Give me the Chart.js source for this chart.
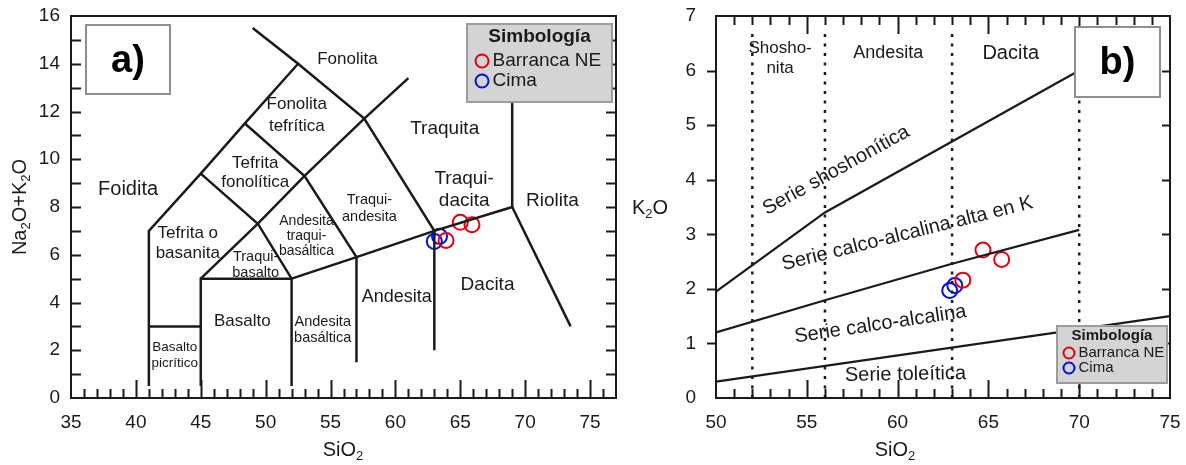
<!DOCTYPE html>
<html>
<head>
<meta charset="utf-8">
<title>Diagramas TAS y K2O vs SiO2</title>
<script src="https://cdn.jsdelivr.net/npm/chart.js@4.4.1/dist/chart.umd.min.js"></script>
<style>
  body { margin: 0; background: #fff; }
  canvas { position: absolute; top: 0; }
  #tas { left: 0; }
  #k2o { left: 620px; }
</style>
</head>
<body>
<canvas id="tas" width="640" height="465"></canvas>
<canvas id="k2o" width="566" height="465"></canvas>
<script>
const FONT = '"Liberation Sans", Arial, Helvetica, sans-serif';
const INK = '#1a1a1a';
const RED = '#e3000f';
const BLUE = '#0010d8';

// ---- a) diagrama TAS ----
const xTicksA = [35, 40, 45, 50, 55, 60, 65, 70, 75];
const yTicksA = [0, 2, 4, 6, 8, 10, 12, 14, 16];
// limites de campos (SiO2, Na2O+K2O)
const tasFoidita = [[41, 0.5], [41, 7], [45, 9.4], [48.4, 11.5], [52.5, 14], [49, 15.5]];
const tasPicro = [[41, 3], [45, 3]];
const tasBasalto = [[45, 0.5], [45, 5], [52, 5], [52, 0.5]];
const tasTefrita = [[45, 5], [49.4, 7.3], [53, 9.3], [57.6, 11.7], [61, 13.4]];
const tasTefFon = [[45, 9.4], [49.4, 7.3], [52, 5]];
const tasFonTef = [[48.4, 11.5], [53, 9.3], [57, 5.9], [57, 1.5]];
const tasFonolita = [[52.5, 14], [57.6, 11.7], [63, 7], [63, 2]];
const tasSubalc = [[52, 5], [57, 5.9], [63, 7], [69, 8], [69, 12.4]];
const tasRiolita = [[69, 8], [73.5, 3]];

const siA_barranca = [65.0, 65.9, 63.9];
const alkA_barranca = [7.36, 7.26, 6.6];
const siA_cima = [63.0, 63.4];
const alkA_cima = [6.56, 6.77];

// nombres de campos: texto, SiO2, Na2O+K2O, tamaño, ángulo, interlineado
const rocasA = [
  ['Fonolita', 56.3, 14.2, 17],
  ['Fonolita\ntefrítica', 52.4, 11.83, 17, 0, 1.3],
  ['Traquita', 63.8, 11.28, 19],
  ['Traqui-\ndacita', 65.3, 8.73, 19],
  ['Riolita', 72.1, 8.26, 19],
  ['Traqui-\nandesita', 58.0, 7.93, 14.5],
  ['Tefrita\nfonolítica', 49.2, 9.43, 17],
  ['Foidita', 39.4, 8.73, 20],
  ['Tefrita o\nbasanita', 44.0, 6.49, 17],
  ['Andesita\ntraqui-\nbasáltica', 53.15, 6.77, 14, 0, 1.07],
  ['Traqui-\nbasalto', 49.23, 5.57, 14.5],
  ['Basalto', 48.2, 3.21, 17],
  ['Basalto\npicrítico', 43.0, 1.79, 13.5],
  ['Andesita\nbasáltica', 54.4, 2.85, 14.5],
  ['Andesita', 60.1, 4.21, 18],
  ['Dacita', 67.1, 4.76, 19]
];

// ---- b) K2O vs SiO2 ----
const xTicksB = [50, 55, 60, 65, 70, 75];
const yTicksB = [0, 1, 2, 3, 4, 5, 6, 7];
const divB = [52, 56, 63, 70];
const serieShosh = [[50, 1.95], [56, 3.4], [70, 6.0]];
const serieAltaK = [[50, 1.2], [56, 1.79], [63, 2.46], [70, 3.08]];
const serieToleit = [[50, 0.3], [75, 1.5]];

const siB_barranca = [64.7, 65.73, 63.59];
const kB_barranca = [2.71, 2.54, 2.16];
const siB_cima = [62.87, 63.15];
const kB_cima = [1.97, 2.06];

const rocasB = [
  ['Shosho-\nnita', 53.53, 6.22, 17],
  ['Andesita', 59.49, 6.32, 18],
  ['Dacita', 66.23, 6.32, 20],
  ['Serie shoshonítica', 56.62, 4.17, 20, -29],
  ['Serie calco-alcalina alta en K', 60.54, 3.01, 20, -14],
  ['Serie calco-alcalina', 59.05, 1.35, 20, -8.5],
  ['Serie toleítica', 60.43, 0.43, 20, -1]
];

const seg = arr => arr.map(([x, y]) => ({ x, y }));
const pts = (xs, ys) => xs.map((x, i) => ({ x, y: ys[i] }));

function boundary(arr, w, dash) {
  return {
    data: seg(arr), showLine: true, borderColor: INK, borderWidth: w,
    borderDash: dash || [], borderCapStyle: 'butt', borderJoinStyle: 'miter',
    pointRadius: 0, fill: false, tension: 0
  };
}

function sample(label, xs, ys, color, r) {
  return {
    label, data: pts(xs, ys), showLine: false, isSample: true,
    pointStyle: 'circle', pointRadius: r, pointHoverRadius: r, pointBorderWidth: 2,
    borderColor: color, pointBorderColor: color, backgroundColor: 'rgba(0,0,0,0)'
  };
}

// fija el tamaño del eje y anula el relleno extra que Chart.js añade por las etiquetas
function fixed(prop, size) {
  return s => {
    s[prop] = size;
    s.paddingTop = s.paddingBottom = s.paddingLeft = s.paddingRight = 0;
  };
}

function axis(min, max, ticks, pad, fit) {
  return {
    type: 'linear', min, max,
    afterBuildTicks: s => { s.ticks = ticks.map(v => ({ value: v })); },
    afterFit: fit,
    grid: { display: false, drawTicks: false },
    border: { display: false },
    ticks: { font: { family: FONT, size: 19 }, color: INK, padding: pad, autoSkip: false, maxRotation: 0 }
  };
}

// texto con subíndices: '_' marca el siguiente carácter
function drawSub(ctx, text, cx, cy, size) {
  const segs = [];
  for (let i = 0; i < text.length; i++) {
    if (text[i] === '_') segs.push([text[++i], true]);
    else segs.push([text[i], false]);
  }
  const fontOf = sub => (sub ? size * 0.65 : size) + 'px ' + FONT;
  let w = 0;
  segs.forEach(([c, sub]) => { ctx.font = fontOf(sub); w += ctx.measureText(c).width; });
  let x = cx - w / 2;
  ctx.textAlign = 'left';
  ctx.textBaseline = 'middle';
  segs.forEach(([c, sub]) => {
    ctx.font = fontOf(sub);
    ctx.fillText(c, x, sub ? cy + size * 0.3 : cy);
    x += ctx.measureText(c).width;
  });
}

const panels = {
  tas: {
    rocas: rocasA,
    tickTop: false, leftOut: false, leftLen: 10, rightLen: 10,
    xTitle: ['SiO_2', 343, 450], yTitle: ['Na_2O+K_2O', 20, 207, true],
    tag: { text: 'a)', x: 86, y: 25, w: 84, h: 69 },
    legend: { x: 467, y: 24, w: 145, h: 78, size: 19, title: 13, row0: 37, step: 20, mx: 482, r: 6.5 }
  },
  k2o: {
    rocas: rocasB,
    tickTop: true, leftOut: true, leftLen: 9, rightLen: 8,
    xTitle: ['SiO_2', 275, 450], yTitle: ['K_2O', 30, 208, false],
    tag: { text: 'b)', x: 455, y: 27, w: 85, h: 70 },
    legend: { x: 437, y: 326, w: 110, h: 57, size: 15, title: 9.5, row0: 27, step: 15, mx: 449, r: 5.5 }
  }
};

const deco = {
  id: 'deco',
  afterDraw(chart) {
    const p = panels[chart.canvas.id];
    const ctx = chart.ctx;
    const { left, right, top, bottom } = chart.chartArea;
    const xs = chart.scales.x, ys = chart.scales.y;
    ctx.save();

    // marco
    ctx.strokeStyle = INK;
    ctx.lineWidth = 2;
    ctx.strokeRect(left, top, right - left, bottom - top);

    // marcas de escala
    ctx.beginPath();
    for (let v = xs.min + 1; v < xs.max; v++) {
      const px = Math.round(xs.getPixelForValue(v)) + 0.5;
      const len = v % 5 === 0 ? 18 : 9;
      ctx.moveTo(px, bottom); ctx.lineTo(px, bottom - len);
      if (p.tickTop) { ctx.moveTo(px, top); ctx.lineTo(px, top + len); }
    }
    for (let v = ys.min + 1; v < ys.max; v++) {
      const py = Math.round(ys.getPixelForValue(v)) + 0.5;
      ctx.moveTo(left, py); ctx.lineTo(p.leftOut ? left - p.leftLen : left + p.leftLen, py);
      ctx.moveTo(right, py); ctx.lineTo(right - p.rightLen, py);
    }
    ctx.stroke();

    // nombres de campos
    ctx.fillStyle = INK;
    p.rocas.forEach(([txt, x, y, size, ang, lh]) => {
      ctx.save();
      ctx.translate(xs.getPixelForValue(x), ys.getPixelForValue(y));
      ctx.rotate((ang || 0) * Math.PI / 180);
      ctx.font = size + 'px ' + FONT;
      ctx.textAlign = 'center';
      ctx.textBaseline = 'middle';
      const lines = txt.split('\n');
      const step = size * (lh || 1.15);
      lines.forEach((l, i) => ctx.fillText(l, 0, (i - (lines.length - 1) / 2) * step));
      ctx.restore();
    });

    // títulos de ejes
    drawSub(ctx, p.xTitle[0], p.xTitle[1], p.xTitle[2], 20);
    ctx.save();
    ctx.translate(p.yTitle[1], p.yTitle[2]);
    if (p.yTitle[3]) ctx.rotate(-Math.PI / 2);
    drawSub(ctx, p.yTitle[0], 0, 0, 20);
    ctx.restore();

    // leyenda
    const L = p.legend;
    ctx.fillStyle = '#d4d4d4';
    ctx.fillRect(L.x, L.y, L.w, L.h);
    ctx.strokeStyle = '#9c9c9c';
    ctx.lineWidth = 2;
    ctx.strokeRect(L.x, L.y, L.w, L.h);
    ctx.fillStyle = INK;
    ctx.font = 'bold ' + L.size + 'px ' + FONT;
    ctx.textAlign = 'center';
    ctx.textBaseline = 'middle';
    ctx.fillText('Simbología', L.x + L.w / 2, L.y + L.title);
    chart.data.datasets.filter(d => d.isSample).forEach((d, i) => {
      const cy = L.y + L.row0 + i * L.step;
      ctx.beginPath();
      ctx.arc(L.mx, cy, L.r, 0, 2 * Math.PI);
      ctx.strokeStyle = d.borderColor;
      ctx.lineWidth = 2;
      ctx.stroke();
      ctx.fillStyle = INK;
      ctx.font = L.size + 'px ' + FONT;
      ctx.textAlign = 'left';
      ctx.fillText(d.label, L.mx + L.r + 4, cy);
    });

    // etiqueta del panel
    const T = p.tag;
    ctx.fillStyle = '#fff';
    ctx.fillRect(T.x, T.y, T.w, T.h);
    ctx.strokeStyle = '#8e8e8e';
    ctx.lineWidth = 2;
    ctx.strokeRect(T.x, T.y, T.w, T.h);
    ctx.fillStyle = '#000';
    ctx.font = 'bold 38px ' + FONT;
    ctx.textAlign = 'center';
    ctx.textBaseline = 'middle';
    ctx.fillText(T.text, T.x + T.w / 2, T.y + T.h / 2 + 2);

    ctx.restore();
  }
};

Chart.defaults.font.family = FONT;

new Chart(document.getElementById('tas'), {
  type: 'scatter',
  data: {
    datasets: [
      boundary(tasFoidita, 2.5), boundary(tasPicro, 2.5), boundary(tasBasalto, 2.5),
      boundary(tasTefrita, 2.5), boundary(tasTefFon, 2.5), boundary(tasFonTef, 2.5),
      boundary(tasFonolita, 2.5), boundary(tasSubalc, 2.5), boundary(tasRiolita, 2.5),
      sample('Barranca NE', siA_barranca, alkA_barranca, RED, 7.5),
      sample('Cima', siA_cima, alkA_cima, BLUE, 7.5)
    ]
  },
  options: {
    responsive: false, animation: false, devicePixelRatio: 1,
    layout: { padding: { top: 16, right: 24, left: 0, bottom: 0 } },
    plugins: { legend: { display: false }, tooltip: { enabled: false } },
    scales: {
      x: axis(35, 77, xTicksA, 13, fixed('height', 67)),
      y: axis(0, 16, yTicksA, 11, fixed('width', 71))
    }
  },
  plugins: [deco]
});

new Chart(document.getElementById('k2o'), {
  type: 'scatter',
  data: {
    datasets: [
      ...divB.map(v => boundary([[v, 0], [v, 6.75]], 2.5, [3, 6.5])),
      boundary(serieShosh, 2.2), boundary(serieAltaK, 2.2), boundary(serieToleit, 2.2),
      sample('Barranca NE', siB_barranca, kB_barranca, RED, 7.5),
      sample('Cima', siB_cima, kB_cima, BLUE, 7.5)
    ]
  },
  options: {
    responsive: false, animation: false, devicePixelRatio: 1,
    layout: { padding: { top: 16, right: 16, left: 0, bottom: 0 } },
    plugins: { legend: { display: false }, tooltip: { enabled: false } },
    scales: {
      x: axis(50, 75, xTicksB, 13, fixed('height', 67)),
      y: axis(0, 7, yTicksB, 20, fixed('width', 96))
    }
  },
  plugins: [deco]
});
</script>
</body>
</html>
